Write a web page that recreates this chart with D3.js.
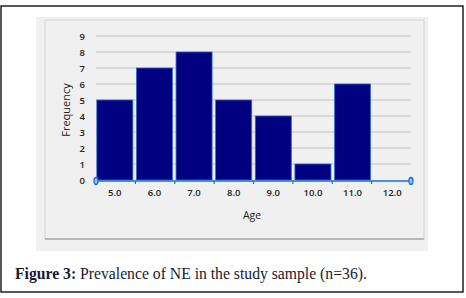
<html lang="en">
<head>
<meta charset="UTF-8">
<title>Prevalence of NE</title>
<style>
  body { margin: 0; background: #fff; }
  svg { display: block; }
</style>
</head>
<body>
<div id="chart"></div>
<script src="https://d3js.org/d3.v7.min.js"></script>
<script>
  const ages = ["5.0", "6.0", "7.0", "8.0", "9.0", "10.0", "11.0", "12.0"];
  const freq = [5, 7, 8, 5, 4, 1, 6, 0];
  const yTicks = [0, 1, 2, 3, 4, 5, 6, 7, 8, 9];

  const W = 466, H = 298;
  const svg = d3.select('#chart').append('svg')
    .attr('width', W).attr('height', H);

  // outer figure frame
  svg.append('rect')
    .attr('x', 1).attr('y', 6).attr('width', 462).attr('height', 286)
    .attr('fill', '#fff').attr('stroke', '#222').attr('stroke-width', 1.5);

  // chart panel
  svg.append('rect')
    .attr('x', 36).attr('y', 17).attr('width', 392).attr('height', 234)
    .attr('fill', '#f0f0f0');
  svg.append('rect')
    .attr('x', 45).attr('y', 20).attr('width', 379).attr('height', 219)
    .attr('fill', 'none').attr('stroke', '#d4d4d4');
  svg.append('line')
    .attr('x1', 45).attr('x2', 424).attr('y1', 239).attr('y2', 239)
    .attr('stroke', '#a8a8a8').attr('stroke-width', 1.5);

  const x = d3.scaleBand().domain(ages).range([96, 411]).paddingInner(0.09).paddingOuter(0.02);
  const xEdge = d3.scaleLinear().domain([0, ages.length]).range([96, 411]);
  const y = d3.scaleLinear().domain([0, 9]).range([180, 36]);

  // gridlines
  svg.append('g')
    .selectAll('line')
    .data(yTicks.slice(1))
    .join('line')
    .attr('x1', 96).attr('x2', 411)
    .attr('y1', d => y(d)).attr('y2', d => y(d))
    .attr('stroke', '#c2c2c2').attr('stroke-width', 1.2);

  // y axis labels
  const yAxis = svg.append('g')
    .attr('transform', 'translate(85,0)')
    .call(d3.axisLeft(y).tickValues(yTicks).tickSize(0).tickPadding(0));
  yAxis.select('.domain').remove();
  yAxis.selectAll('text')
    .attr('font-family', 'Open Sans, sans-serif')
    .attr('font-size', 9.5).attr('font-weight', 600).attr('fill', '#222');

  // bars
  svg.append('g')
    .selectAll('rect')
    .data(ages.map((a, i) => ({ age: a, v: freq[i] })).filter(d => d.v > 0))
    .join('rect')
    .attr('x', d => x(d.age))
    .attr('width', x.bandwidth())
    .attr('y', d => y(d.v))
    .attr('height', d => y(0) - y(d.v))
    .attr('fill', '#000080')
    .attr('stroke', '#2f6fd0').attr('stroke-width', 0.8);

  // x axis line
  svg.append('line')
    .attr('x1', 96).attr('x2', 411).attr('y1', y(0) + 1).attr('y2', y(0) + 1)
    .attr('stroke', '#1a6fd8').attr('stroke-width', 1.6);
  svg.append('g')
    .selectAll('line')
    .data(d3.range(1, ages.length))
    .join('line')
    .attr('x1', d => xEdge(d)).attr('x2', d => xEdge(d))
    .attr('y1', y(0) + 1).attr('y2', y(0) + 4)
    .attr('stroke', '#1a6fd8').attr('stroke-width', 1.2);
  svg.append('g')
    .selectAll('ellipse')
    .data([0, ages.length])
    .join('ellipse')
    .attr('cx', d => xEdge(d)).attr('cy', y(0) + 1)
    .attr('rx', 2).attr('ry', 3.5)
    .attr('fill', '#9cc3f0').attr('stroke', '#1a6fd8').attr('stroke-width', 1.3);

  const xAxis = svg.append('g')
    .attr('transform', `translate(0,${y(0) + 9})`)
    .call(d3.axisBottom(x).tickSize(0).tickPadding(0));
  xAxis.select('.domain').remove();
  xAxis.selectAll('text')
    .attr('font-family', 'Open Sans, sans-serif')
    .attr('font-size', 9.5).attr('font-weight', 600).attr('fill', '#222');

  // axis titles
  svg.append('text')
    .attr('x', 252).attr('y', 219)
    .attr('text-anchor', 'middle')
    .attr('font-family', 'Open Sans, sans-serif')
    .attr('font-size', 10.5).attr('fill', '#222')
    .text('Age');
  svg.append('text')
    .attr('transform', 'translate(70,110) rotate(-90)')
    .attr('text-anchor', 'middle')
    .attr('font-family', 'Open Sans, sans-serif')
    .attr('font-size', 11).attr('fill', '#222')
    .text('Frequency');

  // caption
  const cap = svg.append('text')
    .attr('x', 15).attr('y', 279)
    .attr('font-family', 'Liberation Serif, serif')
    .attr('font-size', 15.7).attr('fill', '#1a1a2e');
  cap.append('tspan').attr('font-weight', 'bold').text('Figure 3:');
  cap.append('tspan').text(' Prevalence of NE in the study sample (n=36).');
</script>
</body>
</html>
